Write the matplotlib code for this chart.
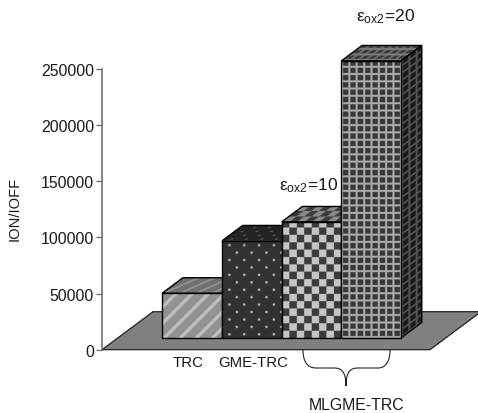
#!/usr/bin/env python3
# pseudo-3D bar chart of Ion/Ioff for the TRC device variants
import numpy as np
import matplotlib
matplotlib.use('Agg')
import matplotlib.pyplot as plt
from matplotlib.patches import Polygon, PathPatch
from matplotlib.path import Path
from matplotlib.transforms import Affine2D

plt.rcParams['font.family'] = ['Liberation Sans', 'DejaVu Sans']
plt.rcParams['mathtext.fontset'] = 'custom'
plt.rcParams['mathtext.rm'] = 'Liberation Sans'

# data
categories = ['TRC', 'GME-TRC', 'MLGME-TRC', 'MLGME-TRC']
ion_ioff = [39800, 86400, 103300, 246700]
y_ticks = [0, 50000, 100000, 150000, 200000, 250000]

W, H = 478, 414
PX_X = 60.0  # pixels per bar slot
PX_Y = 280.7 / 250000  # pixels per unit of Ion/Ioff
DEPTH_DX, DEPTH_DY = 51.0, 38.0  # pixels for the whole floor depth
FRONT, BACK = 0.31, 0.717  # depth range of the bars on the floor
BAR_LEFT = 0.74
BAR_W = 0.995
INK = '#1a1a1a'

fig = plt.figure(figsize=(W / 100, H / 100), dpi=100)
ax = fig.add_axes([102 / W, (H - 350.7) / H, (W - 102) / W, 280.7 / H])
ax.set_autoscale_on(False)
ax.set_xlim(0, (W - 102) / PX_X)
ax.set_ylim(0, 250000)
px_tr = Affine2D().scale(1, -1).translate(0, H)  # y-down pixels for annotations


def project(x, y, d):
    # slot position, value and floor depth -> data coordinates of the picture plane
    return x + d * DEPTH_DX / PX_X, y + d * DEPTH_DY / PX_Y


def stripes(bg, fg):
    def tex(u, v):
        return np.where((u - v) % 16 < 4.5, fg, bg)
    return tex


def dots(bg, fg, vscale=1.0):
    def tex(u, v):
        v = v * vscale
        row = np.floor(v / 7.35)
        du = (u + row * 7.35) % 14.7 - 7.35
        dv = v % 7.35 - 3.67
        return np.where(du ** 2 + dv ** 2 < 1.7, fg, bg)
    return tex


def checker(bg, fg, vcell=7.35):
    def tex(u, v):
        return np.where((np.floor(u / 7.35) + np.floor(v / vcell)) % 2 == 0, fg, bg)
    return tex


def grid(bg, fg, vcell=7.3):
    def tex(u, v):
        return np.where((u % 7.3 < 2) | (v % vcell < 2), fg, bg)
    return tex


def draw_face(origin, e1, e2, w_px, h_px, tex, z):
    # texture is built in pixels, then sheared onto the face
    ss = 4
    nx, ny = max(int(w_px * ss), 2), max(int(h_px * ss), 2)
    u, v = np.meshgrid((np.arange(nx) + 0.5) / ss, (np.arange(ny) + 0.5) / ss)
    mtx = Affine2D.from_values(e1[0], e1[1], e2[0], e2[1], origin[0], origin[1])
    im = ax.imshow(tex(u, v), cmap='gray', vmin=0, vmax=255, origin='lower',
                   extent=(0, 1, 0, 1), aspect='auto', zorder=z,
                   transform=mtx + ax.transData)
    im.set_clip_on(False)
    corners = [origin, (origin[0] + e1[0], origin[1] + e1[1]),
               (origin[0] + e1[0] + e2[0], origin[1] + e1[1] + e2[1]),
               (origin[0] + e2[0], origin[1] + e2[1])]
    ax.add_patch(Polygon(corners, closed=True, fill=False, edgecolor='black',
                         linewidth=1.0, zorder=z + 0.1, clip_on=False))


# floor
floor = [project(0, 0, 0), project(328 / PX_X, 0, 0),
         project(328 / PX_X, 0, 1), project(0, 0, 1)]
ax.add_patch(Polygon(floor, closed=True, facecolor='#808080', edgecolor='#222222',
                     linewidth=0.9, zorder=1, clip_on=False))

front_tex = [stripes(146, 192), dots(50, 175), checker(60, 198), grid(56, 172)]
top_tex = [stripes(112, 146), dots(36, 105, 2), checker(58, 138, 5.2), grid(58, 122, 5.2)]
side_tex = [stripes(70, 100), dots(28, 90), checker(30, 90), grid(26, 84)]

for i, val in enumerate(ion_ioff):
    z = 2 + i
    x0 = BAR_LEFT + i * BAR_W
    p0 = project(x0, 0, FRONT)
    p1 = project(x0 + BAR_W, 0, FRONT)
    p2 = project(x0 + BAR_W, 0, BACK)
    top0 = project(x0, val, FRONT)
    top2 = project(x0, val, BACK)
    w_px = BAR_W * PX_X
    h_px = val * PX_Y
    dx_px = (BACK - FRONT) * DEPTH_DX
    dy_px = (BACK - FRONT) * DEPTH_DY
    up = (0, val)
    across = (p1[0] - p0[0], 0)
    along = (p2[0] - p1[0], p2[1] - p1[1])
    draw_face(top0, across, (top2[0] - top0[0], top2[1] - top0[1]), w_px, dy_px, top_tex[i], z)
    draw_face(p1, along, up, dx_px, h_px, side_tex[i], z + 0.2)
    draw_face(p0, across, up, w_px, h_px, front_tex[i], z + 0.4)

# axis
for name in ('top', 'right', 'bottom'):
    ax.spines[name].set_visible(False)
ax.spines['left'].set_color('#666666')
ax.spines['left'].set_linewidth(1.1)
ax.set_xticks([])
ax.set_yticks(y_ticks)
ax.set_yticklabels([str(t) for t in y_ticks])
ax.tick_params(axis='y', direction='out', length=4.3, width=0.9, color='#666666',
               labelsize=11.4, labelcolor=INK, pad=1.5)
ax.patch.set_visible(False)

# labels, in pixel positions
label_kw = dict(transform=px_tr, ha='center', va='center', color=INK, clip_on=False)
ax.text(15, 209, 'ION/IOFF', rotation=90, fontsize=10.6, **label_kw)
ax.text(188, 362.7, categories[0], fontsize=10.8, **label_kw)
ax.text(253, 362.7, categories[1], fontsize=10.8, **label_kw)
ax.text(356.7, 406, categories[2], fontsize=11.4, **label_kw)
ax.text(309, 186, r'$\mathregular{ε_{ox2}}$=10', fontsize=12.6, **label_kw)
ax.text(386, 17, r'$\mathregular{ε_{ox2}}$=20', fontsize=12.6, **label_kw)

# brace under the last two bars
brace = Path([(303, 351), (303, 362), (307, 369), (316, 369), (334, 369),
              (341, 369), (346, 372), (346, 387),
              (346, 372), (351, 369), (358, 369), (378, 369),
              (386, 369), (390, 362), (390, 351)],
             [Path.MOVETO, Path.CURVE4, Path.CURVE4, Path.CURVE4, Path.LINETO,
              Path.CURVE4, Path.CURVE4, Path.CURVE4,
              Path.CURVE4, Path.CURVE4, Path.CURVE4, Path.LINETO,
              Path.CURVE4, Path.CURVE4, Path.CURVE4])
ax.add_patch(PathPatch(brace, fill=False, edgecolor='#222222', linewidth=0.8,
                       transform=px_tr, clip_on=False, zorder=8))

fig.savefig('out.png', dpi=100)
